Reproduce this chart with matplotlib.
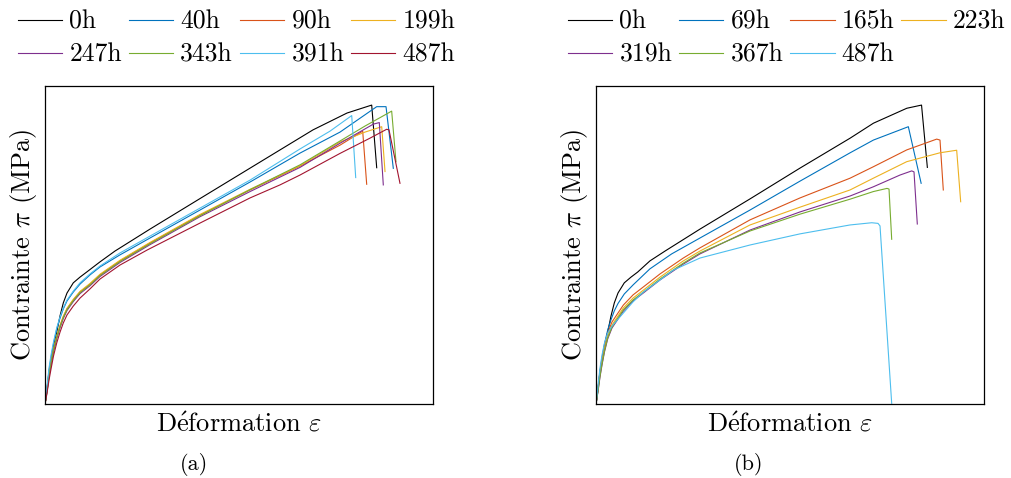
import matplotlib
matplotlib.use("Agg")
import matplotlib.pyplot as plt

# --- Données (unités arbitraires, % de l'étendue des axes) ---
# Panneau (a)
labels_a = ["0h", "40h", "90h", "199h", "247h", "343h", "391h", "487h"]
eps_a_0h = [0, 0.26, 0.64, 1.03, 1.55, 2.19, 3.02, 3.87, 4.72, 5.67, 7.29, 9.02, 10.75,
            14.18, 18.04, 27.06, 39.95, 60.57, 69.07, 77.84, 84.20, 85.49]
sig_a_0h = [0, 1.9, 6.0, 10.1, 13.8, 18.2, 22.6, 27.7, 31.8, 34.9, 38.1, 39.9, 41.5,
            44.7, 48.1, 55.0, 64.6, 79.9, 86.2, 91.5, 94.0, 74.3]
eps_a_40h = [0, 0.26, 0.64, 1.03, 1.55, 2.19, 3.02, 3.87, 4.72, 5.67, 7.29, 9.02, 11.60,
             14.18, 19.33, 27.06, 39.95, 52.84, 65.72, 76.03, 85.49, 87.89, 89.77]
sig_a_40h = [0, 2.2, 6.3, 10.4, 14.5, 18.9, 23.6, 27.0, 29.9, 32.4, 35.2, 37.7, 40.6,
             43.1, 46.9, 52.2, 61.0, 69.8, 78.9, 85.5, 93.5, 93.5, 74.1]
eps_a_90h = [0, 0.26, 0.64, 1.03, 1.55, 2.19, 3.02, 3.87, 4.72, 5.67, 7.29, 9.02, 11.60,
             14.18, 19.33, 27.06, 39.95, 52.84, 65.72, 76.03, 81.88, 82.91]
sig_a_90h = [0, 1.9, 5.3, 9.1, 12.9, 17.0, 21.1, 24.5, 27.4, 29.9, 32.7, 35.2, 37.7,
             40.6, 45.0, 50.6, 59.4, 67.3, 74.8, 81.4, 85.8, 69.1]
eps_a_199h = [0, 0.26, 0.64, 1.03, 1.55, 2.19, 3.02, 3.87, 4.72, 5.67, 7.29, 9.02, 11.60,
              14.18, 19.33, 27.06, 39.95, 52.84, 65.72, 76.03, 82.47, 86.78, 87.63]
sig_a_199h = [0, 2.0, 5.5, 9.3, 13.1, 17.2, 21.3, 24.7, 27.6, 30.1, 32.9, 35.4, 37.9,
              40.8, 45.2, 50.8, 59.6, 67.5, 74.9, 82.4, 85.5, 87.2, 73.1]
eps_a_247h = [0, 0.26, 0.64, 1.03, 1.55, 2.19, 3.02, 3.87, 4.72, 5.67, 7.29, 9.02, 11.60,
              14.18, 19.33, 27.06, 39.95, 52.84, 65.72, 76.03, 84.61, 86.16, 87.19]
sig_a_247h = [0, 1.7, 4.9, 8.6, 12.4, 16.5, 20.6, 24.0, 26.9, 29.4, 32.2, 34.7, 37.2,
              40.1, 44.5, 50.1, 58.9, 66.8, 74.4, 82.0, 88.0, 88.5, 68.9]
eps_a_343h = [0, 0.26, 0.64, 1.03, 1.55, 2.19, 3.02, 3.87, 4.72, 5.67, 7.29, 9.02, 11.60,
              14.18, 19.33, 27.06, 39.95, 52.84, 65.72, 76.03, 82.47, 89.35, 90.46]
sig_a_343h = [0, 1.8, 5.1, 8.9, 12.7, 16.8, 20.9, 24.3, 27.2, 29.7, 32.5, 35.0, 37.5,
              40.4, 44.8, 50.4, 59.2, 67.4, 75.2, 82.7, 87.4, 92.1, 76.2]
eps_a_391h = [0, 0.26, 0.64, 1.03, 1.55, 2.19, 3.02, 3.87, 4.72, 5.67, 7.29, 9.02, 11.60,
              14.18, 19.33, 27.06, 39.95, 52.84, 65.72, 73.45, 79.05, 80.08]
sig_a_391h = [0, 2.5, 6.9, 11.3, 15.4, 19.5, 23.9, 27.4, 30.2, 32.7, 35.5, 38.1, 40.9,
              43.4, 47.5, 52.8, 61.6, 70.4, 80.2, 85.8, 90.7, 71.2]
eps_a_487h = [0, 0.26, 0.64, 1.03, 1.55, 2.19, 3.02, 3.87, 4.72, 5.67, 7.29, 9.02, 11.60,
              14.18, 19.33, 26.29, 39.95, 52.84, 60.57, 65.72, 76.03, 83.76, 88.07, 88.66, 91.49]
sig_a_487h = [0, 1.6, 4.4, 7.5, 11.0, 15.1, 19.2, 22.6, 25.5, 28.0, 30.8, 33.3, 36.2,
              39.3, 43.7, 48.4, 56.9, 64.8, 68.9, 72.0, 78.8, 83.6, 86.4, 86.2, 69.4]

# Panneau (b)
labels_b = ["0h", "69h", "165h", "223h", "319h", "367h", "487h"]
eps_b_0h = [0, 0.26, 0.64, 1.03, 1.55, 2.19, 3.02, 3.87, 4.72, 5.67, 7.29, 9.02, 10.75,
            13.9, 17.8, 26.8, 39.7, 52.6, 65.5, 71.5, 80.1, 83.9, 85.4]
sig_b_0h = [0, 1.9, 6.0, 10.1, 13.8, 18.2, 22.6, 27.7, 31.8, 34.9, 38.1, 39.9, 41.5,
            45.0, 48.1, 55.0, 64.5, 74.2, 83.6, 88.3, 93.0, 94.0, 74.4]
eps_b_69h = [0, 0.26, 0.64, 1.03, 1.55, 2.19, 3.02, 3.87, 4.72, 5.67, 7.29, 9.6,
             13.9, 19.5, 26.8, 39.7, 52.6, 65.5, 71.5, 80.5, 83.8]
sig_b_69h = [0, 2.2, 6.3, 10.4, 14.5, 18.9, 23.3, 26.5, 29.3, 31.6, 34.6, 37.5,
             42.5, 47.2, 52.2, 61.0, 70.1, 79.0, 83.0, 87.2, 69.4]
eps_b_165h = [0, 0.26, 0.64, 1.03, 1.55, 2.19, 3.02, 4.12, 7.04, 9.54, 12.19, 16.49,
              22.50, 26.80, 39.69, 52.58, 65.46, 71.47, 80.08, 87.81, 88.66, 89.51]
sig_b_165h = [0, 2.5, 6.3, 10.1, 13.8, 18.2, 22.3, 25.8, 31.1, 34.3, 36.8, 40.9,
              45.9, 49.1, 57.9, 64.8, 71.0, 74.6, 79.9, 83.3, 83.0, 67.3]
eps_b_223h = [0, 0.26, 0.64, 1.03, 1.55, 2.19, 3.02, 4.12, 7.04, 9.54, 12.19, 16.49,
              22.50, 26.80, 39.69, 52.58, 65.46, 71.47, 80.08, 88.66, 92.96, 93.99]
sig_b_223h = [0, 2.2, 5.7, 9.4, 13.2, 17.3, 21.4, 24.8, 30.2, 33.3, 35.8, 39.9,
              45.0, 48.1, 56.3, 61.9, 67.3, 71.0, 76.2, 79.0, 79.8, 63.6]
eps_b_319h = [0, 0.26, 0.64, 1.03, 1.55, 2.19, 3.02, 4.12, 7.04, 9.54, 12.19, 16.49,
              22.50, 26.80, 39.69, 52.58, 65.46, 71.47, 78.35, 81.37, 81.96, 82.81]
sig_b_319h = [0, 1.9, 5.0, 8.5, 12.3, 16.4, 20.5, 23.9, 29.2, 32.4, 34.9, 39.0,
              44.0, 47.2, 54.7, 60.4, 65.4, 68.3, 72.0, 73.3, 73.0, 56.6]
eps_b_367h = [0, 0.26, 0.64, 1.03, 1.55, 2.19, 3.02, 4.12, 7.04, 9.54, 12.19, 16.49,
              22.50, 26.80, 39.69, 52.58, 65.46, 71.47, 75.00, 75.52, 76.21]
sig_b_367h = [0, 2.0, 5.3, 8.8, 12.6, 16.7, 20.8, 24.2, 29.6, 32.7, 35.2, 39.3,
              44.3, 47.5, 54.4, 59.7, 64.4, 66.8, 67.8, 67.6, 51.8]
eps_b_487h = [0, 0.26, 0.64, 1.03, 1.55, 2.19, 3.02, 4.12, 7.04, 9.54, 12.19, 16.49,
              19.92, 26.80, 39.69, 52.58, 65.46, 71.06, 72.68, 73.20, 76.21]
sig_b_487h = [0, 2.8, 7.2, 11.3, 15.4, 19.2, 22.3, 24.5, 28.6, 32.1, 35.2, 39.0,
              42.1, 45.9, 50.0, 53.5, 56.3, 57.0, 56.8, 56.0, 0.2]

colors = ["#000000", "#0072BD", "#D95319", "#EDB120",
          "#7E2F8E", "#77AC30", "#4DBEEE", "#A2142F"]

curves_a = [(eps_a_0h, sig_a_0h), (eps_a_40h, sig_a_40h), (eps_a_90h, sig_a_90h),
            (eps_a_199h, sig_a_199h), (eps_a_247h, sig_a_247h), (eps_a_343h, sig_a_343h),
            (eps_a_391h, sig_a_391h), (eps_a_487h, sig_a_487h)]
curves_b = [(eps_b_0h, sig_b_0h), (eps_b_69h, sig_b_69h), (eps_b_165h, sig_b_165h),
            (eps_b_223h, sig_b_223h), (eps_b_319h, sig_b_319h), (eps_b_367h, sig_b_367h),
            (eps_b_487h, sig_b_487h)]

plt.rcParams["font.family"] = ["cmr10", "DejaVu Serif"]
plt.rcParams["mathtext.fontset"] = "cm"
plt.rcParams["axes.formatter.use_mathtext"] = True

W, H = 1011, 478
fig = plt.figure(figsize=(W / 100, H / 100), dpi=100)
ax_a = fig.add_axes([45 / W, 74 / H, 388 / W, 318 / H])
ax_b = fig.add_axes([596 / W, 74 / H, 388 / W, 318 / H])


def draw_panel(ax, curves, labels, tag, tag_x, leg_x):
    handles = []
    for (eps, sig), lab, c in zip(curves, labels, colors):
        h, = ax.plot(eps, sig, color=c, linewidth=0.8, label=lab)
        handles.append(h)
    ax.set_xlim(0, 100)
    ax.set_ylim(0, 100)
    ax.set_xticks([])
    ax.set_yticks([])
    for sp in ax.spines.values():
        sp.set_linewidth(0.9)
    ax.set_xlabel(r"D$\acute{\mathrm{e}}$formation $\varepsilon$", fontsize=19, labelpad=6)
    ax.set_ylabel(r"Contrainte $\pi$ (MPa)", fontsize=19, labelpad=4)
    # légende remplie ligne par ligne (4 colonnes)
    n = len(handles)
    order = [i for c in range(4) for i in range(c, n, 4)]
    ax.legend([handles[i] for i in order], [labels[i] for i in order],
              loc="upper left", bbox_to_anchor=(leg_x / W, 1 - 10 / H),
              bbox_transform=fig.transFigure, ncol=4, frameon=False,
              fontsize=18.5, handlelength=1.72, handletextpad=0.28,
              columnspacing=0.27, labelspacing=0.37, borderpad=0,
              borderaxespad=0)
    fig.text(tag_x / W, 14 / H, tag, fontsize=16, ha="center", va="center")


draw_panel(ax_a, curves_a, labels_a, "(a)", 194, 18)
draw_panel(ax_b, curves_b, labels_b, "(b)", 749, 568)

fig.savefig("out.png", dpi=100)
